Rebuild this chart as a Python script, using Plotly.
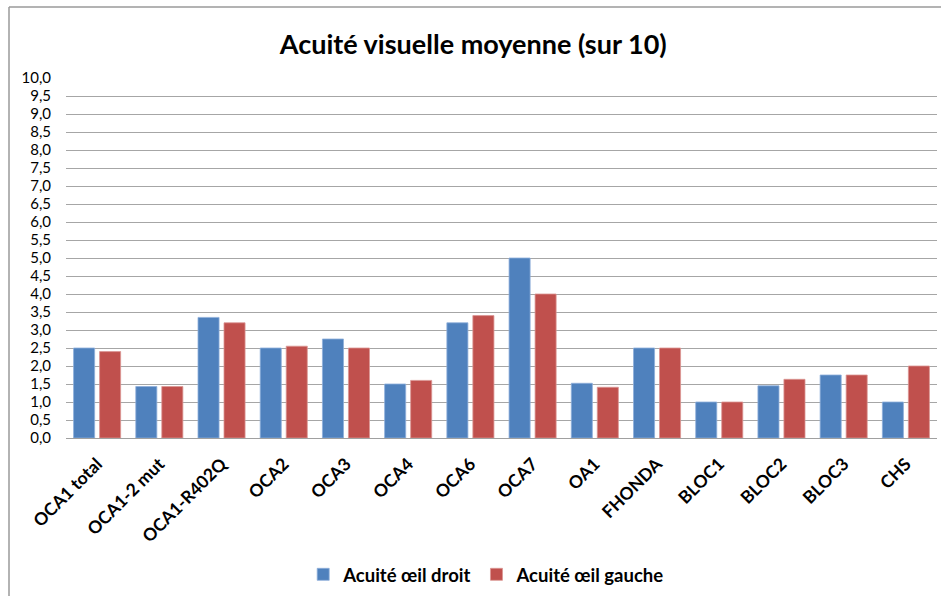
import plotly.graph_objects as go

categories = ["OCA1 total", "OCA1-2 mut", "OCA1-R402Q", "OCA2", "OCA3", "OCA4", "OCA6",
              "OCA7", "OA1", "FHONDA", "BLOC1", "BLOC2", "BLOC3", "CHS"]
droit = [2.5, 1.43, 3.35, 2.5, 2.75, 1.5, 3.2, 5.0, 1.52, 2.5, 1.0, 1.45, 1.75, 1.0]
gauche = [2.4, 1.43, 3.2, 2.55, 2.5, 1.6, 3.4, 4.0, 1.41, 2.5, 1.0, 1.63, 1.75, 2.0]
y_ticks = [i * 0.5 for i in range(21)]
y_ticktext = [f"{v:.1f}".replace(".", ",") for v in y_ticks]

FONT = "Lato"

fig = go.Figure()
fig.add_trace(go.Bar(x=categories, y=droit, name="Acuité œil droit",
                     marker=dict(color="#4F81BD", line=dict(color="#8EAEDB", width=0.8))))
fig.add_trace(go.Bar(x=categories, y=gauche, name="Acuité œil gauche",
                     marker=dict(color="#C0504D", line=dict(color="#DA9593", width=0.8))))

fig.update_layout(
    width=941, height=596,
    margin=dict(l=66, r=4, t=78, b=158, autoexpand=False),
    paper_bgcolor="white", plot_bgcolor="white",
    barmode="group", bargap=0.164, bargroupgap=0.19,
    font=dict(family=FONT, color="black"),
    title=dict(text="<b>Acuité visuelle moyenne (sur 10)</b>", x=0.503, xanchor="center",
               y=1 - 45 / 596, yanchor="middle", font=dict(family=FONT, size=27, color="black")),
    showlegend=True,
    legend=dict(orientation="h", x=0.483, xanchor="center", y=-0.38, yanchor="middle",
                font=dict(family=FONT, size=18.5, color="black", weight="bold"),
                itemwidth=30, traceorder="normal"),
    xaxis=dict(tickangle=-45, tickfont=dict(family=FONT, size=17.5, weight="bold", color="black"),
               showline=True, linecolor="#A0A0A0", linewidth=1, ticks="", showgrid=False,
               automargin=False, ticklabelstandoff=8),
    yaxis=dict(range=[0, 10], tickvals=y_ticks, ticktext=y_ticktext,
               tickfont=dict(family=FONT, size=15, color="black"),
               showgrid=True, gridcolor="#A6A6A6", gridwidth=1, zeroline=False,
               showline=False, ticks="", ticklen=0, automargin=False,
               ticklabelstandoff=14),
    shapes=[
        dict(type="line", xref="paper", yref="paper", x0=(9 - 66) / 871, x1=(9 - 66) / 871,
             y0=(438 - 7) / 360, y1=(438 - 600) / 360, line=dict(color="#9A9A9A", width=1.5)),
        dict(type="line", xref="paper", yref="paper", x0=(9 - 66) / 871, x1=(945 - 66) / 871,
             y0=(438 - 7) / 360, y1=(438 - 7) / 360, line=dict(color="#9A9A9A", width=1.5)),
    ],
)

fig.write_html("out.html", config={"displayModeBar": False},
               post_script="document.body.style.margin='0';")
